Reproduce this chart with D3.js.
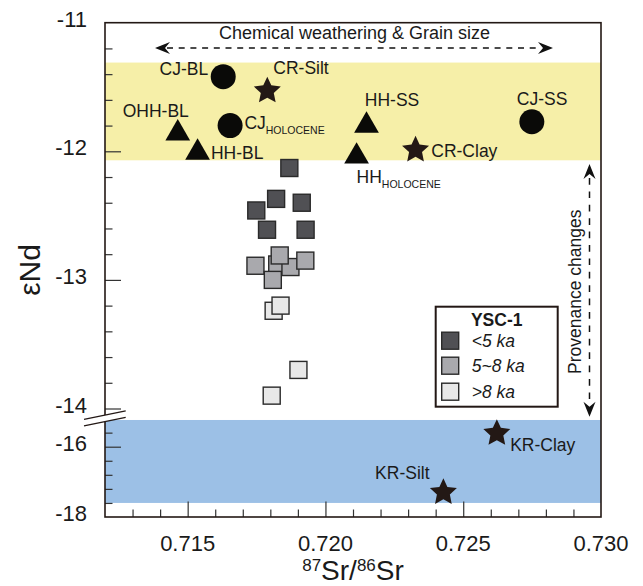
<!DOCTYPE html>
<html><head><meta charset="utf-8">
<script src="https://cdn.jsdelivr.net/npm/d3@7"></script>
<style>
body{margin:0;background:#fff}
svg{display:block}
text{font-family:"Liberation Sans",Arial,Helvetica,sans-serif;fill:#1a1a1a}
</style>
</head><body>
<svg id="c" width="643" height="586"></svg>
<script>
// ---------- DATA ----------
const xTickValues = [0.715, 0.720, 0.725, 0.730];
const xTickLabels = ["0.715", "0.720", "0.725", "0.730"];
const yTopTickValues = [-11, -12, -13, -14];
const yTopTickLabels = ["-11", "-12", "-13", "-14"];
const yBotTickValues = [-16, -18];
const yBotTickLabels = ["-16", "-18"];

// YSC-1 samples
const lt5Sr = [0.71869, 0.71821, 0.71914, 0.71749, 0.71788, 0.71928];
const lt5Nd = [-12.13, -12.37, -12.40, -12.46, -12.61, -12.61];
const mid58Sr = [0.71825, 0.71873, 0.71834, 0.71927, 0.71746, 0.71809];
const mid58Nd = [-12.88, -12.90, -12.81, -12.85, -12.89, -13.00];
const gt8Sr = [0.71812, 0.71837, 0.71902, 0.71805];
const gt8Nd = [-13.24, -13.20, -13.70, -13.90];

// End members
const endNames = ["CJ-BL", "CR-Silt", "OHH-BL", "CJ", "HH-BL", "HH-SS", "CJ-SS", "CR-Clay", "HH", "KR-Clay", "KR-Silt"];
const endSubs  = ["", "", "", "HOLOCENE", "", "", "", "", "HOLOCENE", "", ""];
const endSr    = [0.71629, 0.71789, 0.71464, 0.71654, 0.71536, 0.72149, 0.72749, 0.72327, 0.72113, 0.72622, 0.72428];
const endNd    = [-11.42, -11.53, -11.86, -11.80, -12.01, -11.80, -11.77, -11.99, -12.04, -15.62, -17.30];
const endShape = ["circle", "star", "triangle", "circle", "triangle", "triangle", "circle", "star", "triangle", "star", "star"];

// Shaded ranges
const yellowBand = [-11.31, -12.07];
const blueBand = [-15.24, -17.60];

const legendTitle = "YSC-1";
const legendLabels = ["<5 ka", "5~8 ka", ">8 ka"];
const topArrowText = "Chemical weathering & Grain size";
const sideArrowText = "Provenance changes";

// ---------- LAYOUT (not data) ----------
const L = 105, R = 601, T = 22.7, B = 517;
const labelOffsets = [
  [-15, -1.7, "end"], [6, -17.3, "start"], [-22, -16.3, "middle"], [14.3, 3.3, "start"],
  [13.4, 6, "start"], [-1.7, -20, "start"], [-15, -16.8, "start"], [15.7, 7.3, "start"],
  [0, 26.4, "start"], [13.3, 17.7, "start"], [-68.3, -13, "start"]
];
const subShift = [0, 0, 0, 5, 0, 0, 0, 0, 5.6, 0, 0];

const svg = d3.select("#c");
const x = d3.scaleLinear().domain([0.712, 0.730]).range([L, R]);
const yTop = d3.scaleLinear().domain([-14, -11]).range([408.5, T]);
const yBot = d3.scaleLinear().domain([-18, -16]).range([B, 446.7]);
const yv = v => v >= -14.2 ? yTop(v) : yBot(v);

const dark = "#231815";

// bands
svg.append("rect").attr("x", L).attr("width", R - L)
  .attr("y", yTop(yellowBand[0])).attr("height", yTop(yellowBand[1]) - yTop(yellowBand[0]))
  .attr("fill", "#f6efa8");
svg.append("rect").attr("x", L).attr("width", R - L)
  .attr("y", yBot(blueBand[0])).attr("height", yBot(blueBand[1]) - yBot(blueBand[0]))
  .attr("fill", "#9cc0e6");

// ticks
function tickStyle(g) {
  g.select(".domain").remove();
  g.selectAll(".tick line").attr("stroke", "#333").attr("stroke-width", 1.2);
  g.selectAll(".tick text").remove();
}
const xMinor = d3.range(713, 730).map(d => d / 1000).filter(d => Math.round(d * 1000) % 5 !== 0);
svg.append("g").attr("transform", `translate(0,${B})`)
  .call(d3.axisBottom(x).tickValues(xMinor).tickSize(-7.5)).call(tickStyle);
svg.append("g").attr("transform", `translate(0,${B})`)
  .call(d3.axisBottom(x).tickValues(xTickValues.slice(0, 3)).tickSize(-15.5)).call(tickStyle);

const yTopMinor = d3.range(-138, -110, 2).map(d => d / 10).filter(d => Math.abs(d - Math.round(d)) > 1e-6);
svg.append("g").attr("transform", `translate(${L},0)`)
  .call(d3.axisLeft(yTop).tickValues(yTopMinor).tickSize(-7.5)).call(tickStyle);
svg.append("g").attr("transform", `translate(${L},0)`)
  .call(d3.axisLeft(yTop).tickValues(yTopTickValues.slice(1)).tickSize(-16)).call(tickStyle);
const yBotMinor = [-15.6, -16.4, -16.8, -17.2, -17.6];
svg.append("g").attr("transform", `translate(${L},0)`)
  .call(d3.axisLeft(yBot).tickValues(yBotMinor).tickSize(-7.5)).call(tickStyle);
svg.append("g").attr("transform", `translate(${L},0)`)
  .call(d3.axisLeft(yBot).tickValues([yBotTickValues[0]]).tickSize(-16)).call(tickStyle);

// tick labels
svg.append("g").selectAll("text").data(xTickValues).join("text")
  .attr("x", d => x(d)).attr("y", B + 33.7).attr("text-anchor", "middle")
  .attr("font-size", 22).text((d, i) => xTickLabels[i]);
svg.append("g").selectAll("text").data(yTopTickValues).join("text")
  .attr("x", 87).attr("y", d => yTop(d) + 4).attr("text-anchor", "end")
  .attr("font-size", 22).text((d, i) => yTopTickLabels[i]);
svg.append("g").selectAll("text").data(yBotTickValues).join("text")
  .attr("x", 87).attr("y", d => yBot(d) + 4).attr("text-anchor", "end")
  .attr("font-size", 22).text((d, i) => yBotTickLabels[i]);

// YSC-1 squares
const sq = 17;
function squares(srs, nds, fill) {
  svg.append("g").selectAll("rect").data(srs).join("rect")
    .attr("x", d => x(d) - sq / 2).attr("y", (d, i) => yv(nds[i]) - sq / 2)
    .attr("width", sq).attr("height", sq)
    .attr("fill", fill).attr("stroke", "#2a2a2a").attr("stroke-width", 1.4);
}
squares(lt5Sr, lt5Nd, "#505054");
squares(mid58Sr, mid58Nd, "#a9a9ad");
squares(gt8Sr, gt8Nd, "#e8e8e8");

// end member symbols
const starType = {
  draw(ctx, size) {
    const r0 = Math.sqrt(size), r1 = r0 * 0.48;
    for (let k = 0; k < 10; k++) {
      const a = -Math.PI / 2 + k * Math.PI / 5, r = k % 2 ? r1 : r0;
      const px = r * Math.cos(a), py = r * Math.sin(a);
      k ? ctx.lineTo(px, py) : ctx.moveTo(px, py);
    }
    ctx.closePath();
  }
};
const symFor = s => s === "circle" ? d3.symbol(d3.symbolCircle, Math.PI * 12.5 * 12.5)
  : s === "triangle" ? d3.symbol(d3.symbolTriangle, 265)
  : d3.symbol(starType, 14.2 * 14.2);
svg.append("g").selectAll("path").data(endSr).join("path")
  .attr("transform", (d, i) => `translate(${x(d)},${yv(endNd[i])})`)
  .attr("d", (d, i) => symFor(endShape[i])())
  .attr("fill", (d, i) => endShape[i] === "star" ? dark : "#0a0a08");

// labels
const lab = svg.append("g").selectAll("text").data(endSr).join("text")
  .attr("x", (d, i) => x(d) + labelOffsets[i][0])
  .attr("y", (d, i) => yv(endNd[i]) + labelOffsets[i][1])
  .attr("text-anchor", (d, i) => labelOffsets[i][2])
  .attr("font-size", 17.5);
lab.append("tspan").text((d, i) => endNames[i]);
lab.filter((d, i) => endSubs[i]).append("tspan")
  .attr("font-size", 10.5)
  .each(function () {
    const i = endSr.indexOf(d3.select(this).datum());
    d3.select(this).attr("dy", subShift[i]).text(endSubs[i]);
  });

// frame
svg.append("rect").attr("x", L).attr("y", T).attr("width", R - L).attr("height", B - T)
  .attr("fill", "none").attr("stroke", dark).attr("stroke-width", 1.6);

// axis break
const bY = yBot(-15.2);
const up = [[L - 21, bY + 0.7], [L + 20.7, bY - 7.6]];
const lo = [[L - 21, bY + 7.4], [L + 20.7, bY - 1.3]];
svg.append("path").attr("d", d3.line()([up[0], up[1], lo[1], lo[0]]) + "Z").attr("fill", "#fff");
[up, lo].forEach(p => svg.append("path").attr("d", d3.line()(p))
  .attr("stroke", dark).attr("stroke-width", 1.3).attr("fill", "none"));

// arrows
function arrowHead(tip, dir) {
  const [dx, dy] = dir, nx = -dy, ny = dx, len = 15, w = 6, notch = 10;
  const pts = [
    tip,
    [tip[0] - dx * len + nx * w, tip[1] - dy * len + ny * w],
    [tip[0] - dx * notch, tip[1] - dy * notch],
    [tip[0] - dx * len - nx * w, tip[1] - dy * len - ny * w]
  ];
  svg.append("path").attr("d", d3.line()(pts) + "Z").attr("fill", "#111");
}
const hy = 48, hx0 = 155, hx1 = 553;
svg.append("line").attr("x1", hx0 + 12).attr("x2", hx1 - 12).attr("y1", hy).attr("y2", hy)
  .attr("stroke", "#111").attr("stroke-width", 1.5).attr("stroke-dasharray", "6,5.7");
arrowHead([hx0, hy], [-1, 0]); arrowHead([hx1, hy], [1, 0]);
svg.append("text").attr("x", (hx0 + hx1) / 2 + 0.5).attr("y", 39).attr("text-anchor", "middle")
  .attr("font-size", 18).text(topArrowText);

const vx = 589.5, vy0 = 164, vy1 = 416.7;
svg.append("line").attr("x1", vx).attr("x2", vx).attr("y1", vy0 + 14).attr("y2", vy1 - 12)
  .attr("stroke", "#111").attr("stroke-width", 1.5).attr("stroke-dasharray", "6.7,6.7");
arrowHead([vx, vy0], [0, -1]); arrowHead([vx, vy1], [0, 1]);
svg.append("text").attr("transform", `translate(581,${374}) rotate(-90)`)
  .attr("font-size", 17.5).text(sideArrowText);

// legend
const lg = svg.append("g");
lg.append("rect").attr("x", 435.7).attr("y", 306.7).attr("width", 122).attr("height", 100)
  .attr("fill", "#fff").attr("stroke", dark).attr("stroke-width", 2);
lg.append("text").attr("x", 496.7).attr("y", 326).attr("text-anchor", "middle")
  .attr("font-size", 17.5).attr("font-weight", "bold").text(legendTitle);
const legFills = ["#505054", "#a9a9ad", "#e8e8e8"];
legendLabels.forEach((t, i) => {
  const cy = [340.7, 365.7, 391.7][i];
  lg.append("rect").attr("x", 441.7).attr("y", cy - 8.5).attr("width", 17).attr("height", 17)
    .attr("fill", legFills[i]).attr("stroke", "#2a2a2a").attr("stroke-width", 1.4);
  lg.append("text").attr("x", 471.7).attr("y", cy + 5.8).attr("font-size", 17.5)
    .attr("font-style", "italic").text(t);
});

// axis titles
svg.append("text").attr("transform", `translate(40,270) rotate(-90)`).attr("text-anchor", "middle")
  .attr("font-size", 30).text("εNd");
const xt = svg.append("text").attr("x", 353).attr("y", 580).attr("text-anchor", "middle").attr("font-size", 28);
xt.append("tspan").attr("font-size", 17).attr("dy", -9).text("87");
xt.append("tspan").attr("dy", 9).text("Sr/");
xt.append("tspan").attr("font-size", 17).attr("dy", -9).text("86");
xt.append("tspan").attr("dy", 9).text("Sr");
</script>
</body></html>
